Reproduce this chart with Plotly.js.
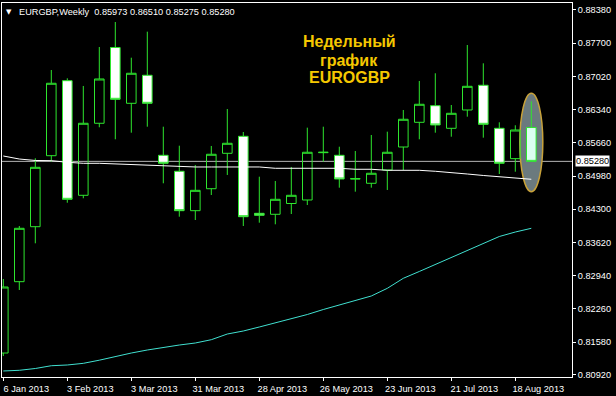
<!DOCTYPE html>
<html>
<head>
<meta charset="utf-8">
<script src="https://cdn.plot.ly/plotly-3.0.1.min.js"></script>
<style>
  html, body { margin: 0; padding: 0; background: #000; }
  #chart { width: 616px; height: 396px; }
</style>
</head>
<body>
<div id="chart"></div>
<script>
// Weekly bars EURGBP
var dates = ['2013-01-06','2013-01-13','2013-01-20','2013-01-27','2013-02-03','2013-02-10','2013-02-17','2013-02-24',
  '2013-03-03','2013-03-10','2013-03-17','2013-03-24','2013-03-31','2013-04-07','2013-04-14','2013-04-21','2013-04-28',
  '2013-05-05','2013-05-12','2013-05-19','2013-05-26','2013-06-02','2013-06-09','2013-06-16','2013-06-23','2013-06-30',
  '2013-07-07','2013-07-14','2013-07-21','2013-07-28','2013-08-04','2013-08-11','2013-08-18','2013-08-25'];
var openP = [0.81355,0.82816,0.83942,0.85396,0.86932,0.84585,0.86060,0.87612,0.86469,0.87043,0.85404,0.85077,0.84270,0.84720,0.85445,0.85793,0.84216,
  0.84196,0.84417,0.84489,0.85458,0.85404,0.84919,0.84831,0.85103,0.85574,0.86080,0.86420,0.85957,0.86332,0.86838,0.85957,0.85335,0.85973];
var highP = [0.82871,0.83956,0.85343,0.87151,0.86981,0.86824,0.87622,0.88134,0.87403,0.87936,0.85990,0.85601,0.85206,0.85595,0.86352,0.85881,0.84966,
  0.84878,0.85165,0.85970,0.85990,0.85580,0.85492,0.85820,0.85888,0.86332,0.86926,0.87084,0.86434,0.87663,0.87288,0.86080,0.86019,0.86510];
var lowP = [0.81294,0.82646,0.83602,0.85273,0.84433,0.84524,0.85978,0.85732,0.85867,0.85990,0.84831,0.84147,0.84079,0.84591,0.85001,0.83956,0.84024,
  0.83991,0.84202,0.84386,0.85273,0.84741,0.84659,0.84741,0.84694,0.85103,0.85732,0.85867,0.85785,0.86195,0.85765,0.85021,0.85068,0.85275];
var closeP = [0.82707,0.83909,0.85158,0.86879,0.84503,0.86060,0.86967,0.86551,0.87084,0.86469,0.85240,0.84270,0.84687,0.85425,0.85650,0.84147,0.84175,
  0.84503,0.84585,0.85466,0.85466,0.84919,0.84925,0.85036,0.85466,0.86142,0.86449,0.86025,0.86264,0.86817,0.86039,0.85240,0.85922,0.85280];
// Moving averages
var maWhite = [0.85390,0.85328,0.85298,0.85294,0.85261,0.85240,0.85240,0.85226,0.85206,0.85206,0.85185,0.85165,0.85165,0.85165,0.85165,0.85165,0.85165,
  0.85138,0.85138,0.85138,0.85138,0.85138,0.85118,0.85118,0.85097,0.85097,0.85097,0.85077,0.85042,0.85021,0.84991,0.84960,0.84933,0.84913];
var maCyan = [0.80987,0.81001,0.81038,0.81095,0.81110,0.81144,0.81208,0.81284,0.81355,0.81417,0.81472,0.81519,0.81560,0.81628,0.81744,0.81806,0.81888,
  0.81970,0.82052,0.82144,0.82246,0.82338,0.82431,0.82523,0.82680,0.82885,0.83025,0.83168,0.83321,0.83465,0.83608,0.83741,0.83833,0.83909];
// Axis ticks
var yTicks = [0.88380,0.87700,0.87020,0.86340,0.85660,0.84980,0.84300,0.83620,0.82940,0.82260,0.81580,0.80920];
var xTickVals = ['2013-01-06','2013-02-03','2013-03-03','2013-03-31','2013-04-28','2013-05-26','2013-06-23','2013-07-21','2013-08-18'];
var xTickText = ['6 Jan 2013','3 Feb 2013','3 Mar 2013','31 Mar 2013','28 Apr 2013','26 May 2013','23 Jun 2013','21 Jul 2013','18 Aug 2013'];
var lastPrice = 0.85280;
var headerText = 'EURGBP,Weekly\u00a0\u00a00.85973 0.86510 0.85275 0.85280';
var noteLines = ['Недельный', 'график', 'EUROGBP'];
var highlightRange = [0.84659, 0.86674];

var GREEN = '#2ee62e';
var FONT = 'Liberation Sans, Arial, sans-serif';
var n = dates.length;

var traces = [
  {type: 'scatter', mode: 'lines', x: dates, y: maCyan, line: {color: '#40e0d0', width: 1}, hoverinfo: 'skip'},
  {type: 'scatter', mode: 'lines', x: dates, y: maWhite, line: {color: '#ffffff', width: 1}, hoverinfo: 'skip'},
  {type: 'candlestick', x: dates.slice(0, n - 1), open: openP.slice(0, n - 1), high: highP.slice(0, n - 1),
   low: lowP.slice(0, n - 1), close: closeP.slice(0, n - 1),
   increasing: {line: {color: GREEN, width: 1}, fillcolor: 'rgba(0,0,0,0)'},
   decreasing: {line: {color: GREEN, width: 1}, fillcolor: '#ffffff'}, whiskerwidth: 0},
  {type: 'candlestick', x: dates.slice(n - 1), open: openP.slice(n - 1), high: highP.slice(n - 1),
   low: lowP.slice(n - 1), close: closeP.slice(n - 1),
   increasing: {line: {color: GREEN, width: 1}, fillcolor: 'rgba(0,0,0,0)'},
   decreasing: {line: {color: GREEN, width: 1}, fillcolor: '#dcfff2'}, whiskerwidth: 0}
];

var annotations = [
  {xref: 'paper', yref: 'paper', x: 0.0128, y: 0.976, xanchor: 'center', yanchor: 'middle', showarrow: false,
   text: '▼', font: {family: 'DejaVu Sans', size: 7, color: '#ffffff'}},
  {xref: 'paper', yref: 'paper', x: 0.026, y: 0.976, xanchor: 'left', yanchor: 'middle', showarrow: false,
   text: headerText, font: {family: FONT, size: 9.2, color: '#ffffff'}},
  {xref: 'paper', yref: 'y', x: 1, y: lastPrice, xanchor: 'left', yanchor: 'middle', xshift: 3, showarrow: false,
   text: lastPrice.toFixed(5), bgcolor: '#ffffff', borderpad: 0, font: {family: FONT, size: 9.2, color: '#000000'}}
];
var noteY = [0.8981, 0.8465, 0.8003];
for (var i = 0; i < noteLines.length; i++) {
  annotations.push({xref: 'paper', yref: 'paper', x: 0.6088, y: noteY[i], xanchor: 'center', yanchor: 'middle',
    showarrow: false, text: '<b>' + noteLines[i] + '</b>', font: {family: FONT, size: 16, color: '#f5c800'}});
}

var layout = {
  width: 616, height: 396,
  margin: {l: 2, r: 44, t: 3, b: 19, pad: 0},
  paper_bgcolor: '#000000', plot_bgcolor: '#000000',
  showlegend: false,
  boxgap: 0.4, boxgroupgap: 0,
  font: {family: FONT, size: 9.2, color: '#ffffff'},
  xaxis: {
    type: 'date', range: ['2013-01-05 10:20', '2013-09-11 19:12'],
    rangeslider: {visible: false},
    showgrid: false, zeroline: false,
    showline: true, mirror: true, linecolor: '#ffffff', linewidth: 1,
    ticks: 'outside', ticklen: 3, tickwidth: 1, tickcolor: '#ffffff',
    tickvals: xTickVals, ticktext: xTickText, ticklabelshift: 23,
    tickfont: {family: FONT, size: 9.2, color: '#ffffff'}, fixedrange: true
  },
  yaxis: {
    side: 'right', range: [0.80864, 0.88523],
    showgrid: false, zeroline: false,
    showline: true, mirror: true, linecolor: '#ffffff', linewidth: 1,
    ticks: 'outside', ticklen: 3, tickwidth: 1, tickcolor: '#ffffff',
    tickvals: yTicks, ticktext: yTicks.map(function (v) { return v.toFixed(5); }),
    tickfont: {family: FONT, size: 9.2, color: '#ffffff'}, fixedrange: true
  },
  shapes: [
    {type: 'circle', layer: 'below', xref: 'x', yref: 'y', xsizemode: 'pixel', xanchor: dates[n - 1],
     x0: -11.5, x1: 11.5, y0: highlightRange[0], y1: highlightRange[1],
     fillcolor: '#6b7a7e', line: {color: '#c8a23a', width: 1.5}},
    {type: 'line', layer: 'below', xref: 'paper', yref: 'y', x0: 0, x1: 1, y0: lastPrice, y1: lastPrice,
     line: {color: '#b4b4b4', width: 1}}
  ],
  annotations: annotations
};

Plotly.newPlot('chart', traces, layout, {displayModeBar: false, staticPlot: true});
</script>
</body>
</html>
